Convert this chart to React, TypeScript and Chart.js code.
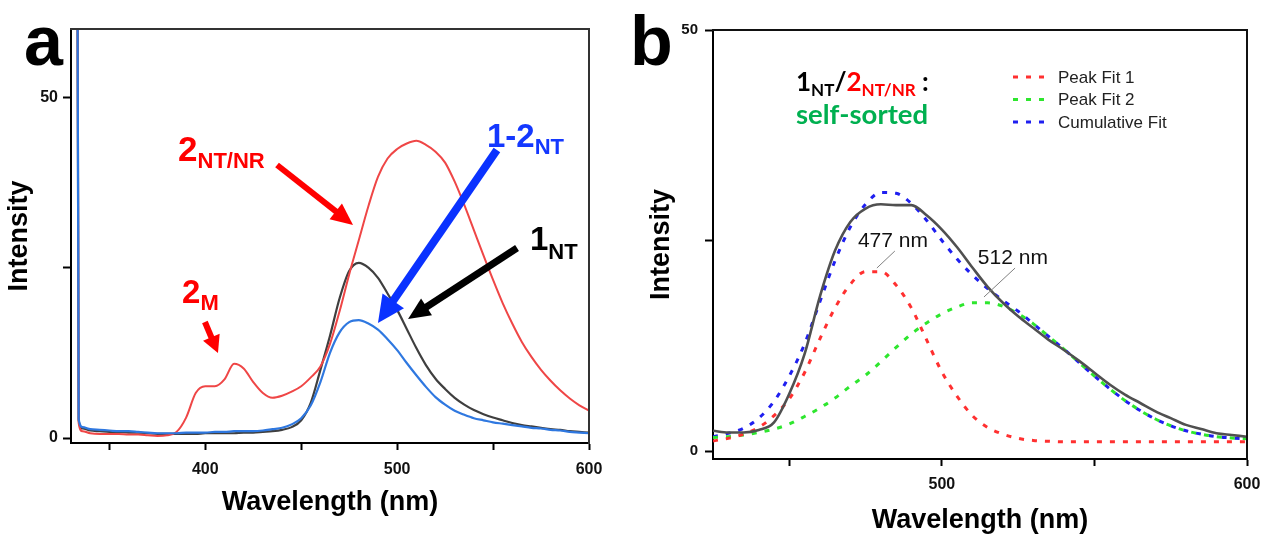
import React, { useEffect, useRef } from 'react';
import { Chart, registerables } from 'chart.js';

Chart.register(...registerables);

const SANS = '"Liberation Sans", Arial, Helvetica, sans-serif';
const CAL = 'Lato, "Open Sans", sans-serif';

// ---------- Panel a ----------
const waveA = [
  330, 333, 334, 336, 340, 345, 350, 355, 360, 365,
  370, 375, 380, 385, 390, 395, 400, 405, 410, 415,
  420, 425, 430, 435, 440, 445, 450, 455, 460, 465,
  470, 475, 480, 485, 490, 495, 500, 505, 510, 515,
  520, 525, 530, 535, 540, 545, 550, 555, 560, 565,
  570, 575, 580, 585, 590, 595, 600,
];
// 2NT/NR
const redA = [
  400, 120, 2.2, 1.0, 0.7, 0.6, 0.6, 0.6, 0.5, 0.5,
  0.4, 0.3, 0.4, 0.9, 3.0, 6.6, 7.6, 7.6, 8.6, 10.9,
  10.2, 8.2, 6.6, 5.9, 6.2, 6.8, 7.6, 8.9, 10.5, 13.8,
  18.6, 24.0, 29.0, 34.0, 38.3, 41.0, 42.4, 43.2, 43.6, 43.0,
  42.0, 40.4, 37.6, 34.2, 30.5, 26.8, 23.2, 19.8, 16.8, 14.1,
  11.9, 10.0, 8.4, 7.0, 5.8, 4.8, 4.0,
];
// 1NT
const grayA = [
  400, 120, 2.6, 1.4, 1.1, 1.0, 0.9, 0.9, 0.8, 0.8,
  0.7, 0.6, 0.6, 0.6, 0.6, 0.6, 0.7, 0.7, 0.7, 0.7,
  0.8, 0.8, 0.9, 1.0, 1.2, 1.6, 2.6, 5.2, 10.0, 15.0,
  20.5, 24.5, 25.7, 25.0, 23.5, 21.2, 18.8, 16.0, 13.2, 10.7,
  8.7, 7.2, 5.9, 4.9, 4.1, 3.5, 3.0, 2.6, 2.2, 1.9,
  1.7, 1.5, 1.3, 1.2, 1.0, 0.9, 0.8,
];
// 1-2NT
const blueA = [
  400, 120, 2.8, 1.6, 1.3, 1.2, 1.1, 1.0, 1.0, 0.9,
  0.8, 0.7, 0.7, 0.7, 0.8, 0.8, 0.8, 0.9, 0.9, 1.0,
  1.0, 1.0, 1.1, 1.3, 1.5, 2.0, 2.9, 4.8, 8.2, 12.5,
  15.5, 17.0, 17.3, 16.8, 15.9, 14.5, 12.9, 11.0, 9.2, 7.5,
  6.0, 4.9, 4.0, 3.4, 2.9, 2.6, 2.3, 2.1, 1.9, 1.7,
  1.5, 1.4, 1.2, 1.1, 0.9, 0.8, 0.7,
];
const xTicksA = [350, 400, 450, 500, 550, 600];
const xLabelsA = [400, 500, 600];
const yTicks = [0, 25, 50];
const yLabels = [0, 50];

// ---------- Panel b ----------
const waveB = [
  425, 430, 435, 440, 445, 450, 455, 460, 465, 470,
  475, 480, 485, 490, 495, 500, 505, 510, 515, 520,
  525, 530, 535, 540, 545, 550, 555, 560, 565, 570,
  575, 580, 585, 590, 595, 600,
];
const measuredB = [
  2.4, 2.2, 2.2, 2.5, 3.4, 6.8, 11.5, 18.3, 23.8, 27.2,
  28.8, 29.3, 29.2, 29.2, 28.0, 26.3, 24.2, 21.8, 19.5, 17.6,
  16.0, 14.6, 13.2, 12.0, 10.7, 9.3, 7.9, 6.7, 5.7, 4.7,
  3.9, 3.1, 2.6, 2.1, 1.9, 1.7,
];
const fit1B = [
  1.2, 1.5, 2.0, 2.8, 4.2, 6.2, 9.3, 13.3, 17.0, 19.8,
  21.3, 21.3, 19.7, 17.0, 13.2, 9.4, 6.5, 4.2, 2.8, 2.0,
  1.5, 1.25, 1.15, 1.1, 1.1, 1.1, 1.1, 1.1, 1.1, 1.1,
  1.1, 1.1, 1.1, 1.1, 1.1, 1.1,
];
const fit2B = [
  1.6, 1.7, 1.9, 2.2, 2.6, 3.2, 4.1, 5.1, 6.3, 7.7,
  9.0, 10.6, 12.3, 13.9, 15.2, 16.3, 17.1, 17.6, 17.6, 17.2,
  16.3, 15.1, 13.6, 12.1, 10.5, 8.9, 7.4, 6.0, 4.8, 3.8,
  3.0, 2.4, 2.0, 1.7, 1.55, 1.45,
];
const cumB = [
  1.7, 2.1, 2.7, 3.9, 5.9, 8.9, 12.7, 17.7, 22.6, 26.6,
  29.3, 30.7, 30.6, 29.4, 27.4, 25.0, 22.8, 20.9, 19.3, 17.9,
  16.6, 15.1, 13.6, 12.1, 10.5, 8.9, 7.4, 6.0, 4.8, 3.8,
  3.0, 2.4, 2.0, 1.7, 1.55, 1.45,
];
const xTicksB = [450, 500, 550, 600];
const xLabelsB = [500, 600];
const legendB = ['Peak Fit 1', 'Peak Fit 2', 'Cumulative Fit'];

const pts = (xs: number[], ys: number[]) => xs.map((x, i) => ({ x, y: ys[i] }));

type Run = { text: string; size: number; color: string; dy?: number; weight?: string; family?: string };

function drawRuns(ctx: CanvasRenderingContext2D, x: number, y: number, runs: Run[]) {
  let cx = x;
  ctx.textBaseline = 'alphabetic';
  ctx.textAlign = 'left';
  for (const r of runs) {
    ctx.font = `${r.weight ?? 'bold'} ${r.size}px ${r.family ?? SANS}`;
    ctx.fillStyle = r.color;
    ctx.fillText(r.text, cx, y + (r.dy ?? 0));
    cx += ctx.measureText(r.text).width;
  }
}

function drawArrow(ctx: CanvasRenderingContext2D, x1: number, y1: number, x2: number, y2: number,
  color: string, width: number, headLen: number, headW: number) {
  const ang = Math.atan2(y2 - y1, x2 - x1);
  const bx = x2 - headLen * Math.cos(ang);
  const by = y2 - headLen * Math.sin(ang);
  ctx.strokeStyle = color;
  ctx.lineWidth = width;
  ctx.lineCap = 'butt';
  ctx.beginPath();
  ctx.moveTo(x1, y1);
  ctx.lineTo(bx + Math.cos(ang), by + Math.sin(ang));
  ctx.stroke();
  ctx.fillStyle = color;
  ctx.beginPath();
  ctx.moveTo(x2, y2);
  ctx.lineTo(bx + headW * Math.sin(ang), by - headW * Math.cos(ang));
  ctx.lineTo(bx - headW * Math.sin(ang), by + headW * Math.cos(ang));
  ctx.closePath();
  ctx.fill();
}

const framePlugin = (color: string, width: number) => ({
  id: 'frame',
  afterDraw(chart: any) {
    const { ctx, chartArea } = chart;
    const { left, right, top, bottom } = chartArea;
    ctx.save();
    ctx.strokeStyle = color;
    ctx.lineWidth = width;
    ctx.beginPath();
    ctx.moveTo(left - 1, top);
    ctx.lineTo(right, top);
    ctx.lineTo(right, bottom + 1);
    ctx.stroke();
    ctx.restore();
  },
});

// annotations in data coordinates
const arrowsA = [
  { from: [437.4, 40.05], to: [477.0, 31.25], color: '#ff0000', width: 6, head: 22, hw: 10 },
  { from: [552.0, 42.25], to: [490.0, 16.87], color: '#0a32ff', width: 8, head: 27, hw: 13 },
  { from: [562.5, 27.87], to: [505.7, 17.46], color: '#000000', width: 7, head: 22, hw: 10 },
  { from: [399.8, 17.02], to: [406.6, 12.47], color: '#ff0000', width: 6, head: 17, hw: 9 },
];

const annotA = {
  id: 'annotA',
  afterDraw(chart: any) {
    const { ctx } = chart;
    const sx = chart.scales.x;
    const sy = chart.scales.y;
    const px = (v: number) => sx.getPixelForValue(v);
    const py = (v: number) => sy.getPixelForValue(v);
    ctx.save();
    for (const a of arrowsA) {
      drawArrow(ctx, px(a.from[0]), py(a.from[1]), px(a.to[0]), py(a.to[1]), a.color, a.width, a.head, a.hw);
    }
    drawRuns(ctx, px(385.8), py(40.6), [
      { text: '2', size: 35, color: '#ff0000' },
      { text: 'NT/NR', size: 22, color: '#ff0000', dy: 7 },
    ]);
    drawRuns(ctx, px(546.8), py(42.7), [
      { text: '1-2', size: 33, color: '#1438ff' },
      { text: 'NT', size: 22, color: '#1438ff', dy: 7 },
    ]);
    drawRuns(ctx, px(569.2), py(27.58), [
      { text: '1', size: 33, color: '#000' },
      { text: 'NT', size: 22, color: '#000', dy: 9 },
    ]);
    drawRuns(ctx, px(387.9), py(19.81), [
      { text: '2', size: 33, color: '#ff0000' },
      { text: 'M', size: 22, color: '#ff0000', dy: 7 },
    ]);
    drawRuns(ctx, 24, 65, [{ text: 'a', size: 70, color: '#000' }]);
    ctx.restore();
  },
};

const annotB = {
  id: 'annotB',
  afterDraw(chart: any) {
    const { ctx } = chart;
    const sx = chart.scales.x;
    const sy = chart.scales.y;
    const px = (v: number) => sx.getPixelForValue(v);
    const py = (v: number) => sy.getPixelForValue(v);
    ctx.save();
    // leader lines
    ctx.strokeStyle = '#808080';
    ctx.lineWidth = 1;
    ctx.beginPath();
    ctx.moveTo(px(484.6), py(23.75));
    ctx.lineTo(px(478.7), py(21.73));
    ctx.moveTo(px(524.0), py(21.73));
    ctx.lineTo(px(513.8), py(18.29));
    ctx.stroke();
    drawRuns(ctx, px(472.5), py(24.23), [{ text: '477 nm', size: 21, color: '#111', weight: 'normal' }]);
    drawRuns(ctx, px(511.8), py(22.21), [{ text: '512 nm', size: 21, color: '#111', weight: 'normal' }]);

    // legend
    const ds = chart.data.datasets;
    for (let i = 0; i < legendB.length; i++) {
      const d = ds[i + 1];
      const y = 77 + i * 22.5;
      ctx.strokeStyle = d.borderColor;
      ctx.lineWidth = 3;
      ctx.setLineDash([5, 8]);
      ctx.beginPath();
      ctx.moveTo(383, y);
      ctx.lineTo(418, y);
      ctx.stroke();
      ctx.setLineDash([]);
      ctx.font = `17px ${SANS}`;
      ctx.fillStyle = '#222';
      ctx.textBaseline = 'middle';
      ctx.textAlign = 'left';
      ctx.fillText(legendB[i], 428, y + 1);
    }

    // title
    drawRuns(ctx, 166, 91, [
      { text: '1', size: 26, color: '#000', family: CAL },
      { text: 'NT', size: 17, color: '#000', dy: 5, family: CAL },
      { text: '/', size: 26, color: '#000', family: CAL },
      { text: '2', size: 26, color: '#ff0000', family: CAL },
      { text: 'NT/NR', size: 17, color: '#ff0000', dy: 5, family: CAL },
      { text: ' :', size: 26, color: '#000', family: CAL },
    ]);
    drawRuns(ctx, 166, 124, [{ text: 'self-sorted', size: 27.5, color: '#00b050', family: CAL }]);
    drawRuns(ctx, 0, 65, [{ text: 'b', size: 70, color: '#000' }]);
    ctx.restore();
  },
};

function scales(opts: {
  xmin: number; xmax: number; ymin: number; ymax: number;
  xTicks: number[]; xLabels: number[]; yWidth: number; xHeight: number;
  xTitlePad: number; yTitlePad: number; xPad: number; yPad: number; ySize: number;
}) {
  return {
    x: {
      type: 'linear',
      min: opts.xmin,
      max: opts.xmax,
      afterBuildTicks: (s: any) => { s.ticks = opts.xTicks.map((v) => ({ value: v })); },
      afterFit: (s: any) => {
        s.height = opts.xHeight;
        s.paddingLeft = 0;
        s.paddingRight = 0;
      },
      ticks: {
        autoSkip: false,
        maxRotation: 0,
        padding: opts.xPad,
        color: '#111',
        font: { size: 16, weight: 'bold', family: SANS },
        callback: (v: any) => (opts.xLabels.includes(Number(v)) ? String(v) : ''),
      },
      grid: { drawOnChartArea: false, drawTicks: true, tickLength: 7, tickWidth: 2, tickColor: '#000', color: '#000' },
      border: { display: true, color: '#000', width: 2 },
      title: {
        display: true,
        text: 'Wavelength (nm)',
        color: '#000',
        font: { size: 27, weight: 'bold', family: SANS, lineHeight: 1 },
        padding: { top: 0, bottom: opts.xTitlePad },
      },
    },
    y: {
      type: 'linear',
      min: opts.ymin,
      max: opts.ymax,
      afterBuildTicks: (s: any) => { s.ticks = yTicks.map((v) => ({ value: v })); },
      afterFit: (s: any) => {
        s.width = opts.yWidth;
        s.paddingTop = 0;
        s.paddingBottom = 0;
      },
      ticks: {
        autoSkip: false,
        padding: opts.yPad,
        color: '#111',
        font: { size: opts.ySize, weight: 'bold', family: SANS },
        callback: (v: any) => (yLabels.includes(Number(v)) ? String(v) : ''),
      },
      grid: { drawOnChartArea: false, drawTicks: true, tickLength: 8, tickWidth: 2, tickColor: '#000', color: '#000' },
      border: { display: true, color: '#000', width: 2 },
      title: {
        display: true,
        text: 'Intensity',
        color: '#000',
        font: { size: 27, weight: 'bold', family: SANS, lineHeight: 1 },
        padding: { top: opts.yTitlePad, bottom: 0 },
      },
    },
  };
}

const lineDs = (label: string, xs: number[], ys: number[], color: string, width: number, dash: number[] = []) => ({
  label,
  data: pts(xs, ys),
  borderColor: color,
  backgroundColor: color,
  borderWidth: width,
  borderDash: dash,
  pointRadius: 0,
  fill: false,
  cubicInterpolationMode: 'monotone',
});

export default function App() {
  const refA = useRef<HTMLCanvasElement>(null);
  const refB = useRef<HTMLCanvasElement>(null);

  useEffect(() => {
    Chart.defaults.font.family = SANS;
    const chartA = new Chart(refA.current as HTMLCanvasElement, {
      type: 'line',
      data: {
        datasets: [
          lineDs('1-2NT', waveA, blueA, '#2f78e0', 2.2),
          lineDs('2NT/NR', waveA, redA, '#ef4646', 2),
          lineDs('1NT', waveA, grayA, '#3f3f3f', 2.2),
        ],
      },
      options: {
        responsive: false,
        animation: false,
        layout: { padding: { left: 0, top: 29, right: 41, bottom: 0 } },
        plugins: { legend: { display: false }, tooltip: { enabled: false }, title: { display: false } },
        scales: scales({
          xmin: 330, xmax: 600, ymin: -0.73, ymax: 60,
          xTicks: xTicksA, xLabels: xLabelsA, yWidth: 71, xHeight: 92,
          xTitlePad: 19, yTitlePad: 6.5, xPad: 10, yPad: 5, ySize: 16,
        }),
      } as any,
      plugins: [framePlugin('#333', 2), annotA],
    } as any);

    const chartB = new Chart(refB.current as HTMLCanvasElement, {
      type: 'line',
      data: {
        datasets: [
          lineDs('Measured', waveB, measuredB, '#505050', 2.6),
          lineDs(legendB[0], waveB, fit1B, '#ff3030', 3, [5, 8]),
          lineDs(legendB[1], waveB, fit2B, '#2ee62e', 3, [5, 8]),
          lineDs(legendB[2], waveB, cumB, '#1f1ff0', 3, [5, 8]),
        ],
      },
      options: {
        responsive: false,
        animation: false,
        layout: { padding: { left: 0, top: 30, right: 16, bottom: 0 } },
        plugins: { legend: { display: false }, tooltip: { enabled: false }, title: { display: false } },
        scales: scales({
          xmin: 425, xmax: 600, ymin: -0.95, ymax: 50,
          xTicks: xTicksB, xLabels: xLabelsB, yWidth: 83, xHeight: 76,
          xTitlePad: 1, yTitlePad: 18.5, xPad: 9, yPad: 7, ySize: 15,
        }),
      } as any,
      plugins: [framePlugin('#111', 2), annotB],
    } as any);

    return () => {
      chartA.destroy();
      chartB.destroy();
    };
  }, []);

  return (
    <div style={{ position: 'absolute', left: 0, top: 0, width: 1263, height: 535, background: '#fff', overflow: 'hidden' }}>
      <canvas ref={refA} width={630} height={535} style={{ position: 'absolute', left: 0, top: 0, width: 630, height: 535 }} />
      <canvas ref={refB} width={633} height={535} style={{ position: 'absolute', left: 630, top: 0, width: 633, height: 535 }} />
    </div>
  );
}
